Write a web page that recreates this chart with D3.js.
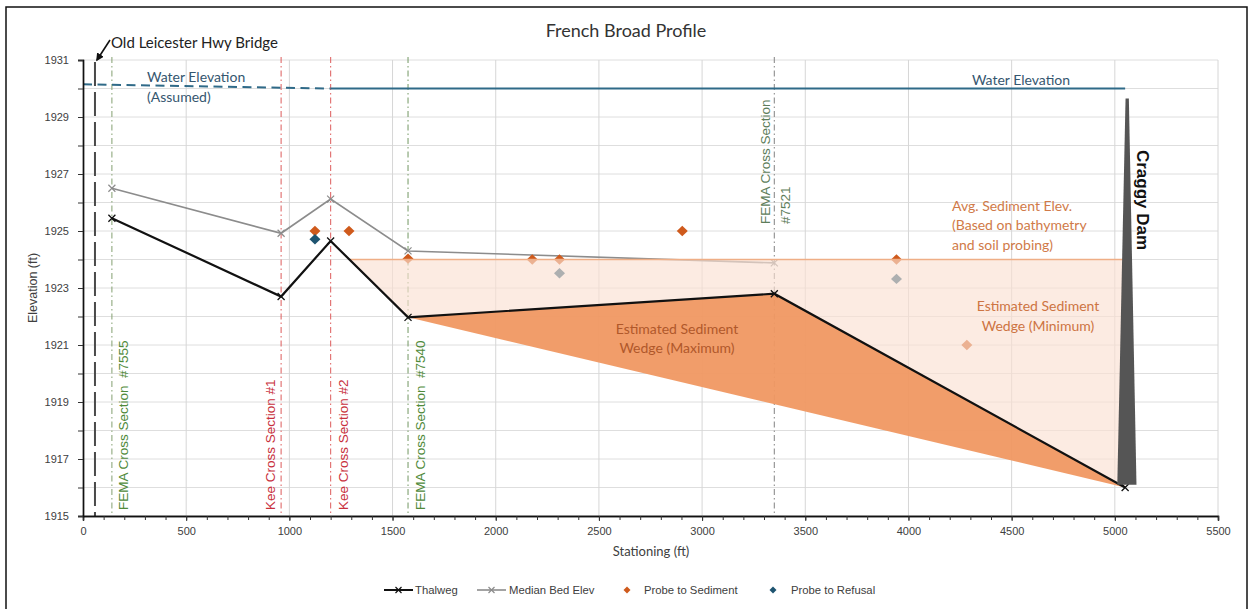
<!DOCTYPE html>
<html><head><meta charset="utf-8">
<script src="https://cdn.jsdelivr.net/npm/d3@7"></script>
<style>html,body{margin:0;padding:0;background:#fff;} svg{display:block;}</style>
</head><body>
<svg id="chart" width="1249" height="609"></svg>
<script>
// ---------- data ----------
const xTicks = [0, 500, 1000, 1500, 2000, 2500, 3000, 3500, 4000, 4500, 5000, 5500];
const yTicks = [1915, 1917, 1919, 1921, 1923, 1925, 1927, 1929, 1931];
const thalwegX = [140, 960, 1200, 1575, 3350, 5050];
const thalwegY = [1925.45, 1922.7, 1924.65, 1921.97, 1922.8, 1916.0];
const medianX = [140, 960, 1200, 1575, 3350];
const medianY = [1926.5, 1924.92, 1926.12, 1924.3, 1923.88];
const sedimentX = [1124, 1289, 1575, 2177, 2309, 2904, 3942, 4283];
const sedimentY = [1925.0, 1925.0, 1924.03, 1924.0, 1924.0, 1925.0, 1924.0, 1921.0];
const refusalX = [1124, 2309, 3942];
const refusalY = [1924.71, 1923.52, 1923.32];
const waterAssumedX = [0, 1200];
const waterAssumedY = [1930.15, 1930.0];
const waterX = [1200, 5050];
const waterY = [1930.0, 1930.0];
const avgSedX = [1291, 5050];
const avgSedY = [1924.0, 1924.0];
const wedgeMinX = [1291, 5050, 5050, 3350, 1575];
const wedgeMinY = [1924.0, 1924.0, 1916.0, 1922.8, 1921.97];
const wedgeMaxX = [1575, 3350, 5050];
const wedgeMaxY = [1921.97, 1922.8, 1916.0];
const damX = [5052, 5068, 5105, 5012];
const damY = [1929.65, 1929.65, 1916.1, 1916.1];
const bridgeX = 58;
const sectionX = [140, 960, 1200, 1575, 3350];
const sectionLabels = [["FEMA Cross Section  #7555"], ["Kee Cross Section #1"], ["Kee Cross Section #2"], ["FEMA Cross Section  #7540"], ["FEMA Cross Section", "#7521"]];
const legendLabels = ["Thalweg", "Median Bed Elev", "Probe to Sediment", "Probe to Refusal"];

// ---------- layout ----------
const svg = d3.select("#chart");
const x = d3.scaleLinear().domain([0, 5500]).range([83, 1218]);
const y = d3.scaleLinear().domain([1915, 1931]).range([516, 60]);
const pts = (xs, ys) => xs.map((v, i) => [x(v), y(ys[i])]);
const line = d3.line();

// outer border
svg.append("rect").attr("x", 6).attr("y", 7).attr("width", 1241).attr("height", 620)
  .attr("fill", "#fff").attr("stroke", "#111").attr("stroke-width", 1.5);

// title
svg.append("text").attr("x", 626).attr("y", 37).attr("text-anchor", "middle")
  .attr("font-family", "Lato, sans-serif").attr("font-size", 18).attr("fill", "#333")
  .text("French Broad Profile");

// gridlines
const g = svg.append("g");
g.selectAll("line.hg").data(d3.range(1915, 1932, 1)).join("line")
  .attr("x1", x(0)).attr("x2", x(5500)).attr("y1", d => y(d)).attr("y2", d => y(d))
  .attr("stroke", "#dedede").attr("stroke-width", 1);
g.selectAll("line.vg").data(xTicks.slice(1)).join("line")
  .attr("x1", d => x(d)).attr("x2", d => x(d)).attr("y1", y(1931)).attr("y2", y(1915))
  .attr("stroke", "#d6d6d6").attr("stroke-width", 1);

// section lines
const secColors = ["#8fa87e", "#e06a6a", "#e06a6a", "#7fa070", "#8e8e8e"];
const labColors = ["#4f8a3a", "#c8303c", "#c8303c", "#4f8a3a", "#5d7d5a"];
svg.selectAll("line.sec").data(sectionX).join("line")
  .attr("x1", d => x(d)).attr("x2", d => x(d)).attr("y1", 57).attr("y2", y(1915))
  .attr("stroke", (d, i) => secColors[i]).attr("stroke-width", 1.1)
  .attr("stroke-dasharray", "6,3,1.5,3");

// bridge line
svg.append("line").attr("x1", x(bridgeX)).attr("x2", x(bridgeX)).attr("y1", 62).attr("y2", y(1915))
  .attr("stroke", "#4a4a4a").attr("stroke-width", 2).attr("stroke-dasharray", "24,6");

// water lines
svg.append("path").attr("d", line(pts(waterAssumedX, waterAssumedY)))
  .attr("stroke", "#2f6a88").attr("stroke-width", 2).attr("fill", "none").attr("stroke-dasharray", "9,5.5");
svg.append("path").attr("d", line(pts(waterX, waterY)))
  .attr("stroke", "#2f6a88").attr("stroke-width", 2).attr("fill", "none");

// median bed line
svg.append("path").attr("d", line(pts(medianX, medianY)))
  .attr("stroke", "#8c8c8c").attr("stroke-width", 1.6).attr("fill", "none");
const xMark = s => `M${-s},${-s}L${s},${s}M${-s},${s}L${s},${-s}`;
svg.selectAll("path.mm").data(pts(medianX, medianY)).join("path")
  .attr("transform", d => `translate(${d[0]},${d[1]})`).attr("d", xMark(3.5))
  .attr("stroke", "#8c8c8c").attr("stroke-width", 1.2).attr("fill", "none");

// probes
const diamond = (w, h) => `M0,${-h}L${w},0L0,${h}L${-w},0Z`;
svg.selectAll("path.sed").data(pts(sedimentX, sedimentY)).join("path")
  .attr("transform", d => `translate(${d[0]},${d[1]})`).attr("d", diamond(5.5, 5.2))
  .attr("fill", "#cf5a1c");
svg.selectAll("path.ref").data(pts(refusalX, refusalY)).join("path")
  .attr("transform", d => `translate(${d[0]},${d[1]})`).attr("d", diamond(5.5, 5.2))
  .attr("fill", "#1e5470");

// wedge (minimum) semi-transparent
svg.append("path").attr("d", line(pts(wedgeMinX, wedgeMinY)) + "Z")
  .attr("fill", "#fae0d2").attr("fill-opacity", 0.65);
// wedge (maximum)
svg.append("path").attr("d", line(pts(wedgeMaxX, wedgeMaxY)) + "Z")
  .attr("fill", "#f09862").attr("fill-opacity", 0.95);

// avg sediment line
svg.append("path").attr("d", line(pts(avgSedX, avgSedY)))
  .attr("stroke", "#efae86").attr("stroke-width", 1.6).attr("fill", "none");

// thalweg
svg.append("path").attr("d", line(pts(thalwegX, thalwegY)))
  .attr("stroke", "#111").attr("stroke-width", 2.2).attr("fill", "none");
svg.selectAll("path.tm").data(pts(thalwegX, thalwegY)).join("path")
  .attr("transform", d => `translate(${d[0]},${d[1]})`).attr("d", xMark(3.5))
  .attr("stroke", "#111").attr("stroke-width", 1.3).attr("fill", "none");

// dam
svg.append("path").attr("d", line(pts(damX, damY)) + "Z").attr("fill", "#555");

// axes
const xAxis = svg.append("g").attr("transform", `translate(0,${y(1915)})`)
  .call(d3.axisBottom(x).tickValues(xTicks).tickFormat(d3.format("d")).tickSize(5).tickPadding(6));
const xMinor = svg.append("g").attr("transform", `translate(0,${y(1915)})`)
  .call(d3.axisBottom(x).tickValues(d3.range(0, 5501, 100)).tickSize(4).tickFormat(""));
const yAxis = svg.append("g").attr("transform", `translate(${x(0)},0)`)
  .call(d3.axisLeft(y).tickValues(yTicks).tickFormat(d3.format("d")).tickSize(5).tickPadding(9));
const yMinor = svg.append("g").attr("transform", `translate(${x(0)},0)`)
  .call(d3.axisLeft(y).tickValues(d3.range(1915, 1932, 1)).tickSize(5).tickFormat(""));
[xAxis, xMinor, yAxis, yMinor].forEach(a => {
  a.select(".domain").attr("stroke", "#111").attr("stroke-width", 1.4);
  a.selectAll(".tick line").attr("stroke", "#333");
  a.selectAll(".tick text").attr("font-family", "Liberation Sans, Arial, sans-serif")
    .attr("font-size", 11).attr("fill", "#404040");
});

// axis titles
svg.append("text").attr("transform", `translate(37,288) rotate(-90)`).attr("text-anchor", "middle")
  .attr("font-family", "Liberation Sans, Arial, sans-serif").attr("font-size", 12.5).attr("fill", "#404040")
  .text("Elevation (ft)");
svg.append("text").attr("x", 651).attr("y", 556).attr("text-anchor", "middle")
  .attr("font-family", "Lato, sans-serif").attr("font-size", 13).attr("fill", "#404040")
  .text("Stationing (ft)");

// section labels
const secLabelX = [123, 270.5, 343.5, 420, 765];
const secLabelY = [510, 510, 510, 510, 224];
sectionLabels.forEach((lines, i) => {
  lines.forEach((t, j) => {
    svg.append("text")
      .attr("transform", `translate(${secLabelX[i] + j * 20},${secLabelY[i]}) rotate(-90)`)
      .attr("dy", "0.35em").attr("text-anchor", "start").style("white-space", "pre")
      .attr("font-family", "Liberation Sans, Arial, sans-serif").attr("font-size", 13.5)
      .attr("fill", labColors[i]).text(t);
  });
});

// bridge label and arrow
svg.append("defs").append("marker").attr("id", "arr").attr("viewBox", "0 0 10 10")
  .attr("refX", 8).attr("refY", 5).attr("markerWidth", 5).attr("markerHeight", 5).attr("orient", "auto")
  .append("path").attr("d", "M0,0L10,5L0,10Z").attr("fill", "#111");
svg.append("line").attr("x1", 110).attr("y1", 40).attr("x2", 97).attr("y2", 60)
  .attr("stroke", "#111").attr("stroke-width", 1.6).attr("marker-end", "url(#arr)");
svg.append("text").attr("x", 111).attr("y", 48).attr("font-family", "Lato, sans-serif")
  .attr("font-size", 15).attr("fill", "#222").text("Old Leicester Hwy Bridge");

// water labels
const wl = (t, xx, yy, anchor) => svg.append("text").attr("x", xx).attr("y", yy).attr("text-anchor", anchor)
  .attr("font-family", "Lato, sans-serif").attr("font-size", 14).attr("fill", "#35566f").text(t);
wl("Water Elevation", 147, 82, "start");
wl("(Assumed)", 147, 102, "start");
wl("Water Elevation", 1021, 85, "middle");

// sediment labels
const tl = (lines, xx, yy, anchor, color, lh) => lines.forEach((t, i) =>
  svg.append("text").attr("x", xx).attr("y", yy + i * lh).attr("text-anchor", anchor)
    .attr("font-family", "Lato, sans-serif").attr("font-size", 14).attr("fill", color).text(t));
tl(["Avg. Sediment Elev.", "(Based on bathymetry", "and soil probing)"], 952, 211, "start", "#d07a48", 19.3);
tl(["Estimated Sediment", "Wedge (Minimum)"], 1038, 311, "middle", "#cd7442", 20);
tl(["Estimated Sediment", "Wedge (Maximum)"], 677, 334, "middle", "#b0582a", 19);

// dam label
svg.append("text").attr("transform", "translate(1143,200) rotate(90)").attr("dy", "0.35em")
  .attr("text-anchor", "middle").attr("font-family", "Liberation Sans, Arial, sans-serif")
  .attr("font-weight", "bold").attr("font-size", 17).attr("fill", "#111").text("Craggy Dam");

// legend
const ly = 590;
const lf = "Liberation Sans Narrow, Arial Narrow, sans-serif";
const leg = svg.append("g");
[[384, 413, "#111", 2], [477, 506, "#8c8c8c", 1.6]].forEach((c, i) => {
  leg.append("line").attr("x1", c[0]).attr("x2", c[1]).attr("y1", ly).attr("y2", ly)
    .attr("stroke", c[2]).attr("stroke-width", c[3]);
  leg.append("path").attr("transform", `translate(${(c[0] + c[1]) / 2},${ly})`).attr("d", xMark(3))
    .attr("stroke", c[2]).attr("stroke-width", 1.2).attr("fill", "none");
});
leg.append("path").attr("transform", `translate(627,${ly})`).attr("d", diamond(3.5, 3.5)).attr("fill", "#cf5a1c");
leg.append("path").attr("transform", `translate(773,${ly})`).attr("d", diamond(3.5, 3.5)).attr("fill", "#1e5470");
const legX = [415, 509, 644, 791];
legendLabels.forEach((t, i) => leg.append("text").attr("x", legX[i]).attr("y", ly).attr("dy", "0.35em")
  .attr("font-family", lf).attr("font-size", 11.3).attr("fill", "#404040").text(t));
</script>
</body></html>
